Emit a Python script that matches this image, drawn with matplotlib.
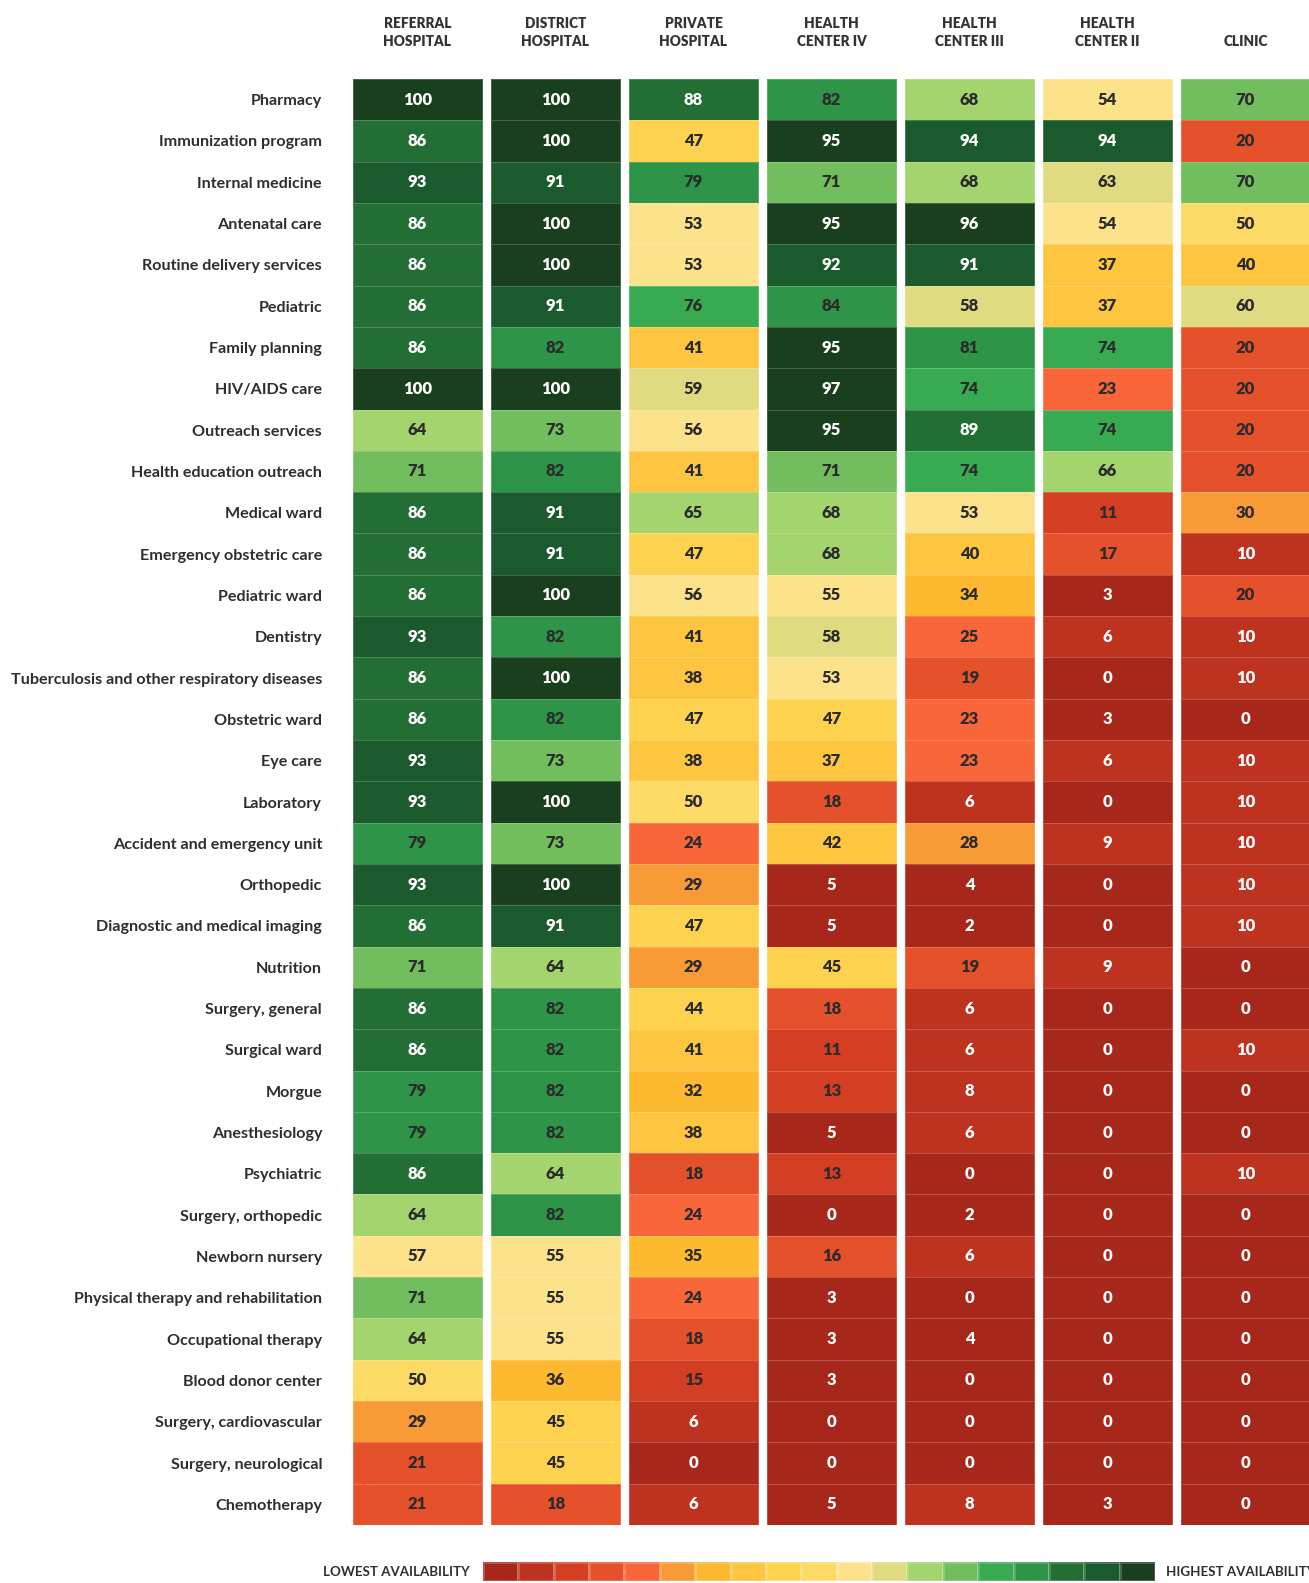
import numpy as np
import matplotlib.pyplot as plt
from matplotlib.colors import ListedColormap, BoundaryNorm

# availability (%) of each service by facility type
facilities = ['REFERRAL\nHOSPITAL', 'DISTRICT\nHOSPITAL', 'PRIVATE\nHOSPITAL',
              'HEALTH\nCENTER IV', 'HEALTH\nCENTER III', 'HEALTH\nCENTER II', 'CLINIC']

services = ['Pharmacy', 'Immunization program', 'Internal medicine', 'Antenatal care',
            'Routine delivery services', 'Pediatric', 'Family planning', 'HIV/AIDS care',
            'Outreach services', 'Health education outreach', 'Medical ward',
            'Emergency obstetric care', 'Pediatric ward', 'Dentistry',
            'Tuberculosis and other respiratory diseases', 'Obstetric ward', 'Eye care',
            'Laboratory', 'Accident and emergency unit', 'Orthopedic',
            'Diagnostic and medical imaging', 'Nutrition', 'Surgery, general',
            'Surgical ward', 'Morgue', 'Anesthesiology', 'Psychiatric',
            'Surgery, orthopedic', 'Newborn nursery', 'Physical therapy and rehabilitation',
            'Occupational therapy', 'Blood donor center', 'Surgery, cardiovascular',
            'Surgery, neurological', 'Chemotherapy']

referral = [100, 86, 93, 86, 86, 86, 86, 100, 64, 71, 86, 86, 86, 93, 86, 86, 93, 93,
            79, 93, 86, 71, 86, 86, 79, 79, 86, 64, 57, 71, 64, 50, 29, 21, 21]
district = [100, 100, 91, 100, 100, 91, 82, 100, 73, 82, 91, 91, 100, 82, 100, 82, 73, 100,
            73, 100, 91, 64, 82, 82, 82, 82, 64, 82, 55, 55, 55, 36, 45, 45, 18]
private = [88, 47, 79, 53, 53, 76, 41, 59, 56, 41, 65, 47, 56, 41, 38, 47, 38, 50,
           24, 29, 47, 29, 44, 41, 32, 38, 18, 24, 35, 24, 18, 15, 6, 0, 6]
hc4 = [82, 95, 71, 95, 92, 84, 95, 97, 95, 71, 68, 68, 55, 58, 53, 47, 37, 18,
       42, 5, 5, 45, 18, 11, 13, 5, 13, 0, 16, 3, 3, 3, 0, 0, 5]
hc3 = [68, 94, 68, 96, 91, 58, 81, 74, 89, 74, 53, 40, 34, 25, 19, 23, 23, 6,
       28, 4, 2, 19, 6, 6, 8, 6, 0, 2, 6, 0, 4, 0, 0, 0, 8]
hc2 = [54, 94, 63, 54, 37, 37, 74, 23, 74, 66, 11, 17, 3, 6, 0, 3, 6, 0,
       9, 0, 0, 9, 0, 0, 0, 0, 0, 0, 0, 0, 0, 0, 0, 0, 3]
clinic = [70, 20, 70, 50, 40, 60, 20, 20, 20, 20, 30, 10, 20, 10, 10, 0, 10, 10,
          10, 10, 10, 0, 0, 10, 0, 0, 10, 0, 0, 0, 0, 0, 0, 0, 0]

palette = ['#A8271B', '#BE3320', '#D43F24', '#E5512B', '#F8663A', '#F89A35', '#FDB92F',
           '#FEC640', '#FDD24F', '#FDD966', '#FDE28C', '#E0DA80', '#A4D46E', '#72BE5E',
           '#37AA52', '#2E9447', '#226E35', '#1B5A2C', '#193F1F']

columns = [referral, district, private, hc4, hc3, hc2, clinic]

cmap = ListedColormap(palette)
norm = BoundaryNorm(np.linspace(0, 100, len(palette) + 1), len(palette), clip=True)

W, H = 1309, 1583
fig = plt.figure(figsize=(W / 100, H / 100), dpi=100)
plt.rcParams['font.family'] = ['Lato', 'DejaVu Sans']

pitch = 138
left = 348.5
top, bottom = 79, 1525
ax = fig.add_axes([left / W, 1 - bottom / H, 7 * pitch / W, (bottom - top) / H])

nrows = len(services)
gap = 0.034
for j, col in enumerate(columns):
    vals = np.array(col, dtype=float).reshape(-1, 1)
    ax.pcolormesh([j + gap, j + 1 - gap], np.arange(nrows + 1), vals,
                  cmap=cmap, norm=norm, edgecolor=(1, 1, 1, 0.2), linewidth=0.7)
    for i, v in enumerate(col):
        idx = min(int(v / 100 * len(palette)), len(palette) - 1)
        tc = 'white' if (idx <= 1 or idx >= 16) else '#2b2b2b'
        ax.text(j + 0.5, i + 0.5, str(v), ha='center', va='center',
                fontsize=12, fontweight='heavy', color=tc)

ax.set_xlim(0, 7)
ax.set_ylim(nrows, 0)
ax.set_yticks(np.arange(nrows) + 0.5)
ax.set_yticklabels(services, fontsize=11.6, fontweight='bold', color='#2e2e2e')
ax.tick_params(axis='y', length=0, pad=19)
ax.xaxis.tick_top()
ax.set_xticks(np.arange(7) + 0.5)
ax.set_xticklabels(facilities, fontsize=9.8, fontweight='heavy', color='#333333',
                   linespacing=1.45, va='bottom')
ax.tick_params(axis='x', length=0, pad=22)
for s in ax.spines.values():
    s.set_visible(False)

# color key along the bottom
lax = fig.add_axes([483 / W, 1 - 1581 / H, 672 / W, 19 / H])
lax.pcolormesh(np.arange(len(palette) + 1), [0, 1],
               np.arange(len(palette)).reshape(1, -1), cmap=cmap,
               edgecolor=(1, 1, 1, 0.2), linewidth=0.8)
lax.set_xlim(0, len(palette))
lax.set_ylim(0, 1)
lax.axis('off')
fig.text(470 / W, 1 - 1572 / H, 'LOWEST AVAILABILITY', ha='right', va='center',
         fontsize=9.6, fontweight='bold', color='#2e2e2e')
fig.text(1166 / W, 1 - 1572 / H, 'HIGHEST AVAILABILITY', ha='left', va='center',
         fontsize=9.6, fontweight='bold', color='#2e2e2e')

fig.savefig('out.png', dpi=100, facecolor='white')
